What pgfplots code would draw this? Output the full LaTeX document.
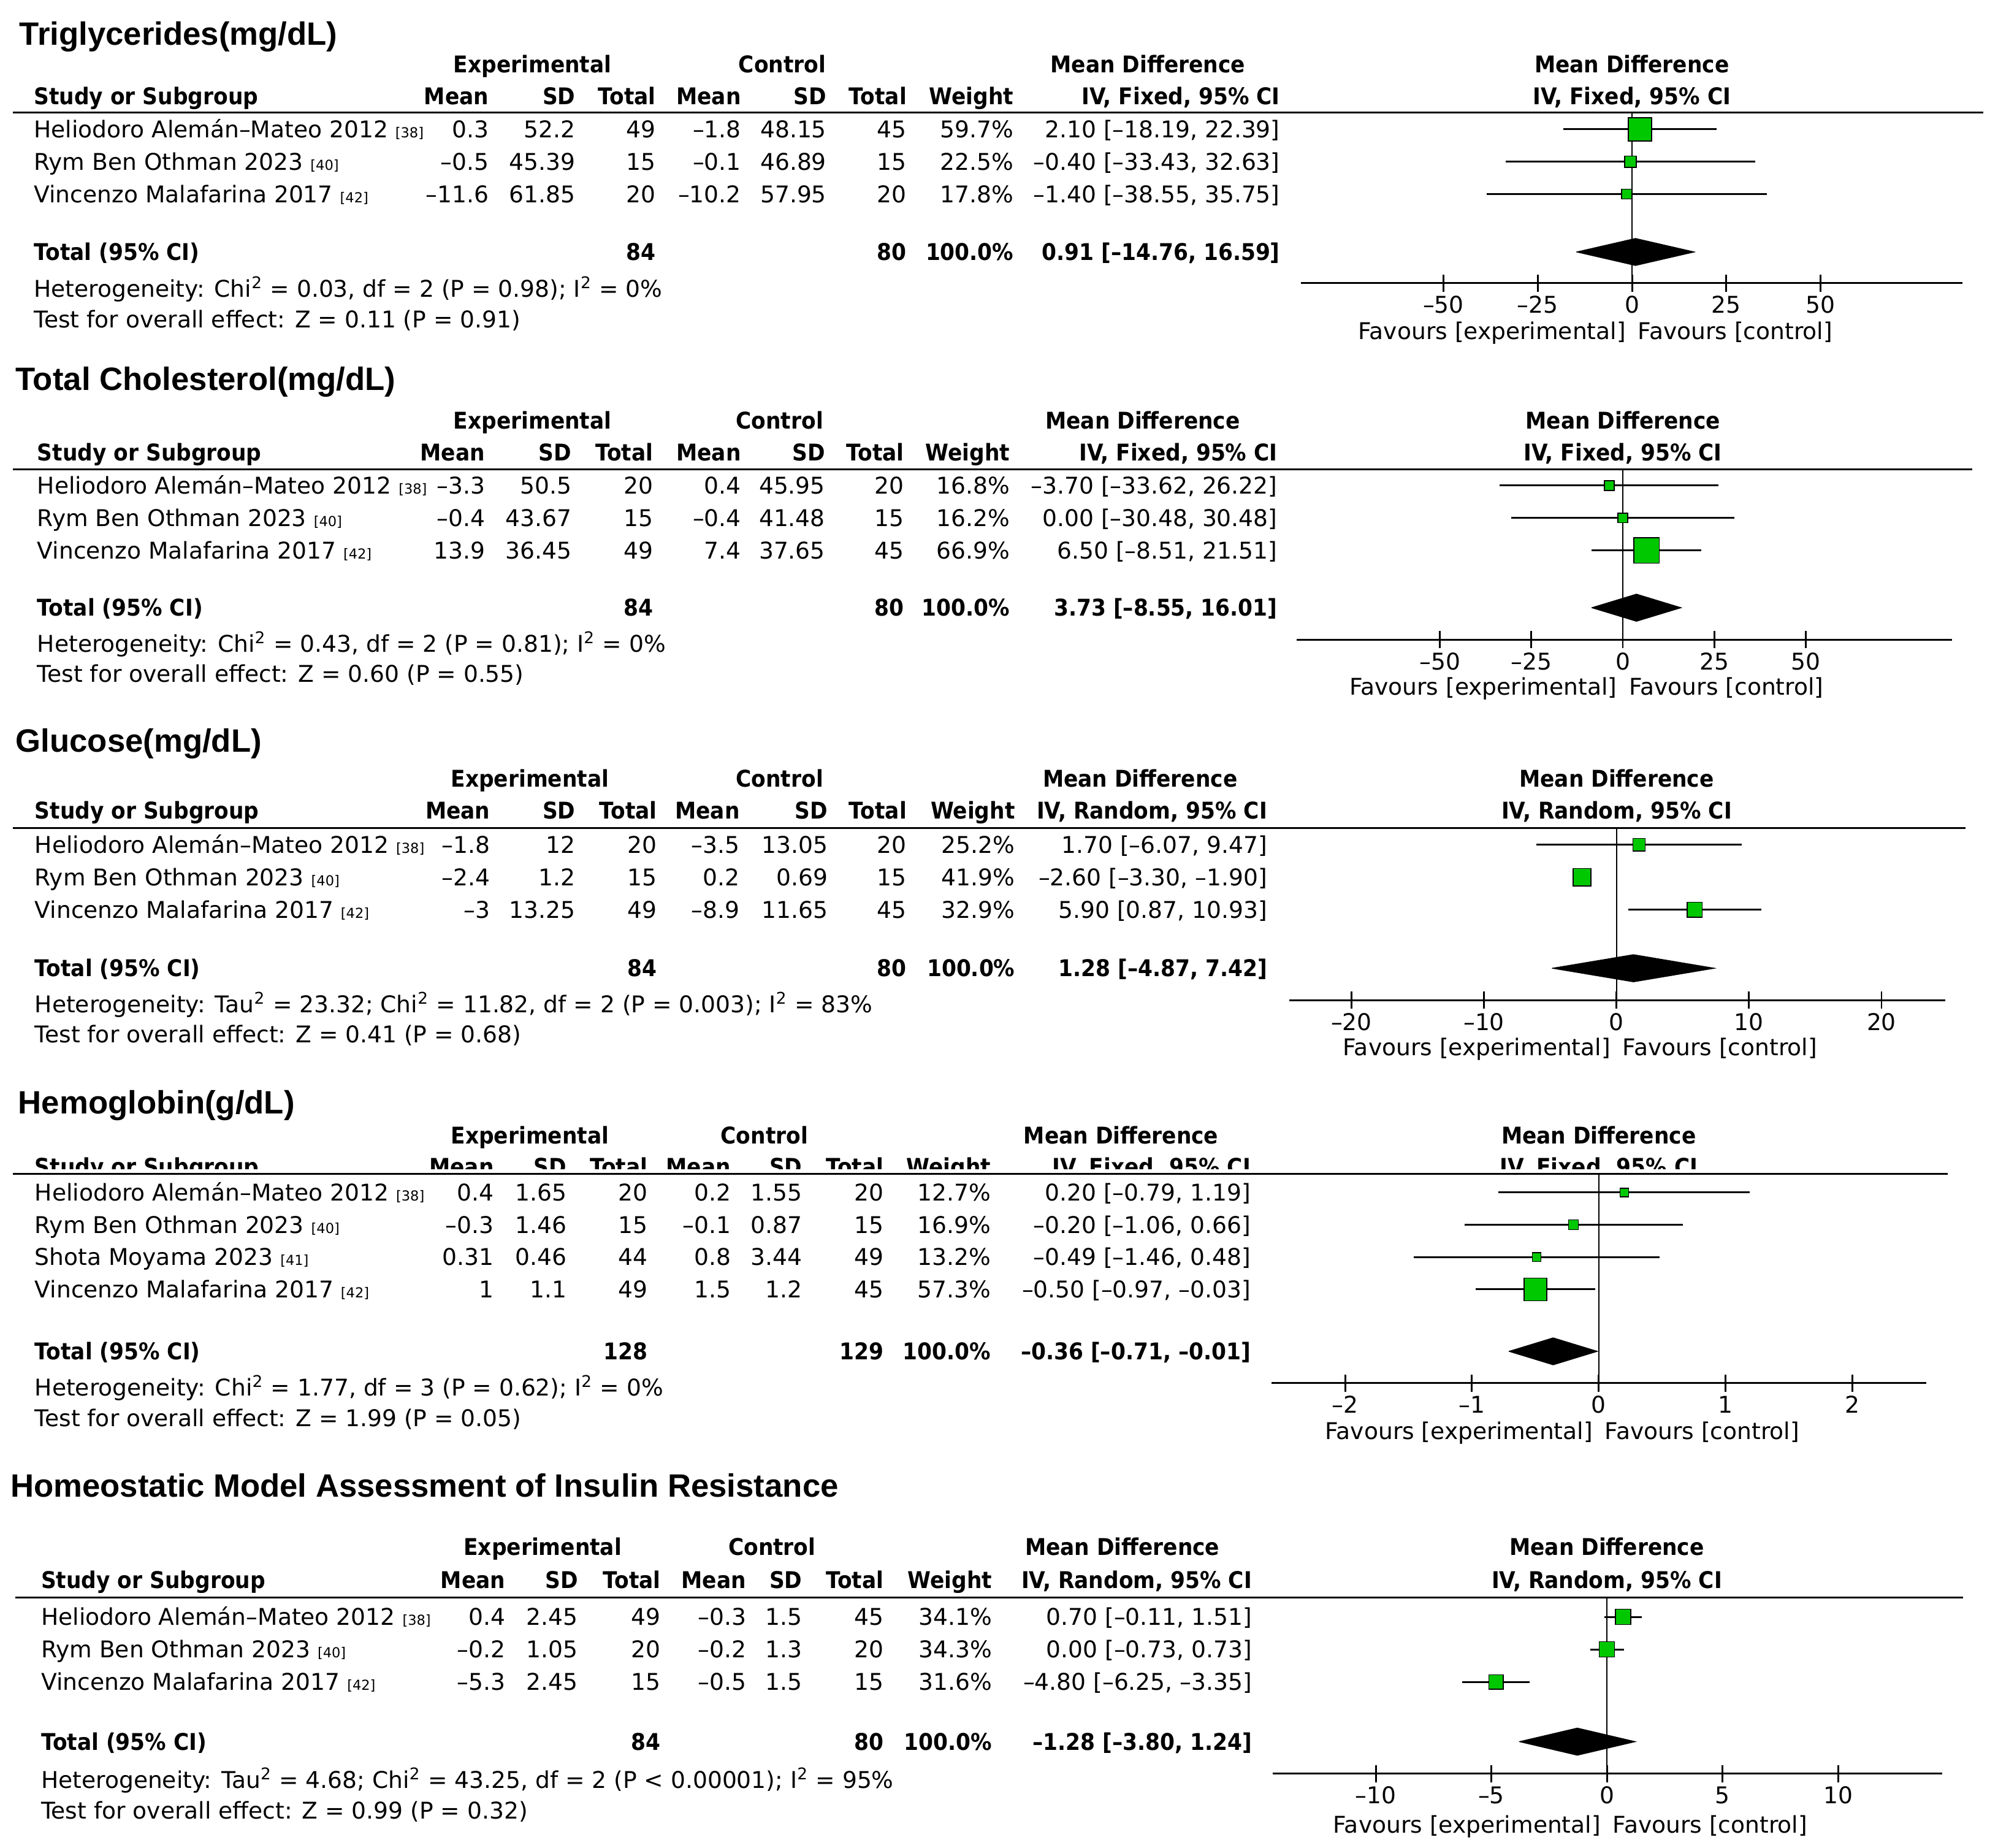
\documentclass[border=0pt]{standalone}
\usepackage{fontspec}
\usepackage{pgfplots}
\usepackage{pgfplotstable}
\pgfplotsset{compat=1.18}
\setmainfont{DejaVu Sans}
\newfontfamily\hdrfont{DejaVu Sans}[FakeStretch=0.915]
\newfontfamily\ttlfont{Liberation Sans}
\definecolor{sqgreen}{RGB}{0,200,0}

\newcommand\body{\fontsize{10.7}{12.8}\selectfont}
\newcommand\hb{\hdrfont\bfseries\fontsize{10.7}{12.8}\selectfont}
\newcommand\ttl{\ttlfont\bfseries\fontsize{15}{18}\selectfont}
\newcommand\rf[1]{{\fontsize{6.4}{7}\selectfont[#1]}}
\newcommand\sq{\textsuperscript{2}}

% r = row, md = mean difference, lo/hi = 95% CI, w = weight (%)
\pgfplotstableread{
r md lo hi w
1 2.10 -18.19 22.39 59.7
2 -0.40 -33.43 32.63 22.5
3 -1.40 -38.55 35.75 17.8
}\tgl
\pgfplotstableread{
r md lo hi w
1 -3.70 -33.62 26.22 16.8
2 0.00 -30.48 30.48 16.2
3 6.50 -8.51 21.51 66.9
}\tch
\pgfplotstableread{
r md lo hi w
1 1.70 -6.07 9.47 25.2
2 -2.60 -3.30 -1.90 41.9
3 5.90 0.87 10.93 32.9
}\glu
\pgfplotstableread{
r md lo hi w
1 0.20 -0.79 1.19 12.7
2 -0.20 -1.06 0.66 16.9
3 -0.49 -1.46 0.48 13.2
4 -0.50 -0.97 -0.03 57.3
}\hgb
\pgfplotstableread{
r md lo hi w
1 0.70 -0.11 1.51 34.1
2 0.00 -0.73 0.73 34.3
3 -4.80 -6.25 -3.35 31.6
}\hom

\pgfplotsset{
  fp/.style={anchor=north west, scale only axis, clip=false,
    axis x line=bottom, axis y line=none,
    x axis line style={-, line width=0.85pt},
    tick align=center, major tick length=0.28cm,
    xtick style={line width=0.85pt, black},
    xticklabel style={font=\body, inner sep=0pt, anchor=base, yshift=-0.35cm},
    ytick=\empty},
  ci/.style={black, line width=0.85pt, forget plot, mark=none,
    quiver={u=\thisrow{hi}-\thisrow{lo}, v=0,
      every arrow/.append style={line width=0.85pt, -}}},
  sqs/.style={scatter, only marks, mark=square*,
    scatter/use mapped color={draw=none, fill=sqgreen},
    visualization depends on={(7.4+0.513*\thisrow{w})*0.14226 \as \msz},
    scatter/@pre marker code/.append style={/tikz/mark size=\msz}},
  zero/.style={black, line width=0.6pt, forget plot},
  dia/.style={fill=black, draw=black, line width=0.3pt},
}

% column positions: study, exp mean/sd/total, ctrl mean/sd/total, weight, CI
\newcommand\cols[9]{\def\cS{#1}\def\cA{#2}\def\cB{#3}\def\cC{#4}\def\cD{#5}\def\cE{#6}\def\cF{#7}\def\cG{#8}\def\cH{#9}}
\newcommand\heads[4]{\def\hE{#1}\def\hC{#2}\def\hM{#3}\def\hR{#4}}
\newcommand\header[3]{%
  \node[tc,font=\hb] at (\hE,#1) {Experimental};
  \node[tc,font=\hb] at (\hC,#1) {Control};
  \node[tc,font=\hb] at (\hM,#1) {Mean Difference};
  \node[tc,font=\hb] at (\hR,#1) {Mean Difference};
  \node[tl,font=\hb] at (\cS,#2) {Study or Subgroup};
  \node[tr,font=\hb] at (\cA,#2) {Mean};
  \node[tr,font=\hb] at (\cB,#2) {SD};
  \node[tr,font=\hb] at (\cC,#2) {Total};
  \node[tr,font=\hb] at (\cD,#2) {Mean};
  \node[tr,font=\hb] at (\cE,#2) {SD};
  \node[tr,font=\hb] at (\cF,#2) {Total};
  \node[tr,font=\hb] at (\cG,#2) {Weight};
  \node[tr,font=\hb] at (\cH,#2) {IV, #3, 95\% CI};
  \node[tc,font=\hb] at (\hR,#2) {IV, #3, 95\% CI};}
\newcommand\srow[9]{\def\ry{#1}\def\rn{#2}\def\ra{#3}\def\rb{#4}\def\rc{#5}\def\rd{#6}\def\re{#7}\def\rg{#8}\def\rw{#9}\srowend}
\newcommand\srowend[1]{%
  \node[tl] at (\cS,\ry) {\rn};
  \node[tr] at (\cA,\ry) {\ra};
  \node[tr] at (\cB,\ry) {\rb};
  \node[tr] at (\cC,\ry) {\rc};
  \node[tr] at (\cD,\ry) {\rd};
  \node[tr] at (\cE,\ry) {\re};
  \node[tr] at (\cF,\ry) {\rg};
  \node[tr] at (\cG,\ry) {\rw};
  \node[tr] at (\cH,\ry) {#1};}
\newcommand\trow[4]{%
  \node[tl,font=\hb] at (\cS,#1) {Total (95\% CI)};
  \node[tr,font=\hb] at (\cC,#1) {#2};
  \node[tr,font=\hb] at (\cF,#1) {#3};
  \node[tr,font=\hb] at (\cG,#1) {100.0\%};
  \node[tr,font=\hb] at (\cH,#1) {#4};}
\newcommand\favours[2]{%
  \node[tr] at (#1-4.5,#2) {Favours [experimental]};
  \node[tl] at (#1+4.5,#2) {Favours [control]};}

\begin{document}
\begin{tikzpicture}
\begin{scope}[x=0.02078cm, y=-0.02078cm, font=\body,
  tl/.style={inner sep=0pt, anchor=base west, yshift=-0.137cm},
  tr/.style={inner sep=0pt, anchor=base east, yshift=-0.137cm},
  tc/.style={inner sep=0pt, anchor=base, yshift=-0.137cm},
  tt/.style={inner sep=0pt, anchor=base west, yshift=-0.19cm, font=\ttl},
  rule/.style={line width=0.85pt}]
\path[use as bounding box] (0,0) rectangle (1568.4,1450.4);

% ---- Triglycerides
\cols{26.4}{384}{452}{515}{582}{649}{712}{796}{1005}
\heads{418}{614}{901}{1281}
\node[tt] at (15,26) {Triglycerides(mg/dL)};
\header{50.5}{75.6}{Fixed}
\draw[rule] (10,88.1) -- (1557,88.1);
\srow{101.5}{Heliodoro Alemán–Mateo 2012 \rf{38}}{0.3}{52.2}{49}{–1.8}{48.15}{45}{59.7\%}{2.10 [–18.19, 22.39]}
\srow{126.9}{Rym Ben Othman 2023 \rf{40}}{–0.5}{45.39}{15}{–0.1}{46.89}{15}{22.5\%}{–0.40 [–33.43, 32.63]}
\srow{152.3}{Vincenzo Malafarina 2017 \rf{42}}{–11.6}{61.85}{20}{–10.2}{57.95}{20}{17.8\%}{–1.40 [–38.55, 35.75]}
\trow{197.8}{84}{80}{0.91 [–14.76, 16.59]}
\node[tl] at (\cS,226.5) {Heterogeneity: Chi\sq{} = 0.03, df = 2 (P = 0.98); I\sq{} = 0\%};
\node[tl] at (\cS,250.5) {Test for overall effect: Z = 0.11 (P = 0.91)};
\favours{1281}{259.9}
\coordinate (a1) at (1021.2,88.1);

% ---- Total cholesterol
\cols{29}{381}{449}{513}{582}{648}{710}{793}{1003}
\heads{418}{612}{897}{1274}
\node[tt] at (12,297) {Total Cholesterol(mg/dL)};
\header{330}{355}{Fixed}
\draw[rule] (10,368.2) -- (1548,368.2);
\srow{381.1}{Heliodoro Alemán–Mateo 2012 \rf{38}}{–3.3}{50.5}{20}{0.4}{45.95}{20}{16.8\%}{–3.70 [–33.62, 26.22]}
\srow{406.6}{Rym Ben Othman 2023 \rf{40}}{–0.4}{43.67}{15}{–0.4}{41.48}{15}{16.2\%}{0.00 [–30.48, 30.48]}
\srow{432.1}{Vincenzo Malafarina 2017 \rf{42}}{13.9}{36.45}{49}{7.4}{37.65}{45}{66.9\%}{6.50 [–8.51, 21.51]}
\trow{477}{84}{80}{3.73 [–8.55, 16.01]}
\node[tl] at (\cS,505) {Heterogeneity: Chi\sq{} = 0.43, df = 2 (P = 0.81); I\sq{} = 0\%};
\node[tl] at (\cS,529) {Test for overall effect: Z = 0.60 (P = 0.55)};
\favours{1274}{539}
\coordinate (a2) at (1017.8,368.2);

% ---- Glucose
\cols{27}{385}{452}{516}{581}{650}{712}{797}{995}
\heads{416}{612}{895}{1269}
\node[tt] at (12,581) {Glucose(mg/dL)};
\header{611}{636}{Random}
\draw[rule] (10,650) -- (1543,650);
\srow{663}{Heliodoro Alemán–Mateo 2012 \rf{38}}{–1.8}{12}{20}{–3.5}{13.05}{20}{25.2\%}{1.70 [–6.07, 9.47]}
\srow{688.5}{Rym Ben Othman 2023 \rf{40}}{–2.4}{1.2}{15}{0.2}{0.69}{15}{41.9\%}{–2.60 [–3.30, –1.90]}
\srow{714}{Vincenzo Malafarina 2017 \rf{42}}{–3}{13.25}{49}{–8.9}{11.65}{45}{32.9\%}{5.90 [0.87, 10.93]}
\trow{760}{84}{80}{1.28 [–4.87, 7.42]}
\node[tl] at (\cS,788) {Heterogeneity: Tau\sq{} = 23.32; Chi\sq{} = 11.82, df = 2 (P = 0.003); I\sq{} = 83\%};
\node[tl] at (\cS,812) {Test for overall effect: Z = 0.41 (P = 0.68)};
\favours{1269}{822}
\coordinate (a3) at (1012,650);

% ---- Hemoglobin
\cols{27}{388}{445}{508.6}{574}{630}{694}{778}{982}
\heads{416}{600}{880}{1255}
\node[tt] at (14,865) {Hemoglobin(g/dL)};
\header{891}{915.5}{Fixed}
\fill[white] (0,917.7) rectangle (1568,930);
\draw[rule] (10,921.5) -- (1529,921.5);
\srow{936}{Heliodoro Alemán–Mateo 2012 \rf{38}}{0.4}{1.65}{20}{0.2}{1.55}{20}{12.7\%}{0.20 [–0.79, 1.19]}
\srow{961.3}{Rym Ben Othman 2023 \rf{40}}{–0.3}{1.46}{15}{–0.1}{0.87}{15}{16.9\%}{–0.20 [–1.06, 0.66]}
\srow{986.6}{Shota Moyama 2023 \rf{41}}{0.31}{0.46}{44}{0.8}{3.44}{49}{13.2\%}{–0.49 [–1.46, 0.48]}
\srow{1012}{Vincenzo Malafarina 2017 \rf{42}}{1}{1.1}{49}{1.5}{1.2}{45}{57.3\%}{–0.50 [–0.97, –0.03]}
\trow{1060.5}{128}{129}{–0.36 [–0.71, –0.01]}
\node[tl] at (\cS,1089) {Heterogeneity: Chi\sq{} = 1.77, df = 3 (P = 0.62); I\sq{} = 0\%};
\node[tl] at (\cS,1113) {Test for overall effect: Z = 1.99 (P = 0.05)};
\favours{1255}{1123}
\coordinate (a4) at (998.1,921.5);

% ---- HOMA-IR
\cols{32}{397}{454}{519}{586}{630}{694}{779}{983}
\heads{426}{606}{881}{1261.3}
\node[tt] at (8,1166) {Homeostatic Model Assessment of Insulin Resistance};
\header{1214}{1240}{Random}
\draw[rule] (12,1254) -- (1541,1254);
\srow{1269}{Heliodoro Alemán–Mateo 2012 \rf{38}}{0.4}{2.45}{49}{–0.3}{1.5}{45}{34.1\%}{0.70 [–0.11, 1.51]}
\srow{1294.5}{Rym Ben Othman 2023 \rf{40}}{–0.2}{1.05}{20}{–0.2}{1.3}{20}{34.3\%}{0.00 [–0.73, 0.73]}
\srow{1320}{Vincenzo Malafarina 2017 \rf{42}}{–5.3}{2.45}{15}{–0.5}{1.5}{15}{31.6\%}{–4.80 [–6.25, –3.35]}
\trow{1367}{84}{80}{–1.28 [–3.80, 1.24]}
\node[tl] at (\cS,1397) {Heterogeneity: Tau\sq{} = 4.68; Chi\sq{} = 43.25, df = 2 (P < 0.00001); I\sq{} = 95\%};
\node[tl] at (\cS,1421) {Test for overall effect: Z = 0.99 (P = 0.32)};
\favours{1261.3}{1432}
\coordinate (a5) at (999,1254);
\end{scope}

% ---- forest plots
\begin{axis}[fp, at={(a1)}, width=10.79cm, height=2.789cm,
  xmin=-87.8, xmax=87.6, ymin=-5.756, ymax=-0.472,
  xtick={-50,-25,0,25,50}, xticklabels={–50,–25,0,25,50}]
\addplot[zero] coordinates {(0,-5.756) (0,-0.472)};
\addplot[ci] table[x=lo, y expr=-\thisrow{r}] {\tgl};
\addplot[sqs] table[x=md, y expr=-\thisrow{r}] {\tgl};
\addplot[dia] coordinates {(-14.76,-4.79) (0.91,-4.37) (16.59,-4.79) (0.91,-5.21) (-14.76,-4.79)};
\end{axis}

\begin{axis}[fp, at={(a2)}, width=10.69cm, height=2.780cm,
  xmin=-89.2, xmax=90.0, ymin=-5.74, ymax=-0.494,
  xtick={-50,-25,0,25,50}, xticklabels={–50,–25,0,25,50}]
\addplot[zero] coordinates {(0,-5.74) (0,-0.494)};
\addplot[ci] table[x=lo, y expr=-\thisrow{r}] {\tch};
\addplot[sqs] table[x=md, y expr=-\thisrow{r}] {\tch};
\addplot[dia] coordinates {(-8.55,-4.76) (3.73,-4.34) (16.01,-4.76) (3.73,-5.18) (-8.55,-4.76)};
\end{axis}

\begin{axis}[fp, at={(a3)}, width=10.70cm, height=2.805cm,
  xmin=-24.7, xmax=24.8, ymin=-5.78, ymax=-0.49,
  xtick={-20,-10,0,10,20}, xticklabels={–20,–10,0,10,20}]
\addplot[zero] coordinates {(0,-5.78) (0,-0.49)};
\addplot[ci] table[x=lo, y expr=-\thisrow{r}] {\glu};
\addplot[sqs] table[x=md, y expr=-\thisrow{r}] {\glu};
\addplot[dia] coordinates {(-4.87,-4.80) (1.28,-4.38) (7.42,-4.80) (1.28,-5.22) (-4.87,-4.80)};
\end{axis}

\begin{axis}[fp, at={(a4)}, width=10.68cm, height=3.408cm,
  xmin=-2.58, xmax=2.58, ymin=-6.90, ymax=-0.43,
  xtick={-2,-1,0,1,2}, xticklabels={–2,–1,0,1,2}]
\addplot[zero] coordinates {(0,-6.90) (0,-0.43)};
\addplot[ci] table[x=lo, y expr=-\thisrow{r}] {\hgb};
\addplot[sqs] table[x=md, y expr=-\thisrow{r}] {\hgb};
\addplot[dia] coordinates {(-0.71,-5.92) (-0.36,-5.50) (-0.01,-5.92) (-0.36,-6.34) (-0.71,-5.92)};
\end{axis}

\begin{axis}[fp, at={(a5)}, width=10.92cm, height=2.868cm,
  xmin=-14.46, xmax=14.5, ymin=-5.82, ymax=-0.41,
  xtick={-10,-5,0,5,10}, xticklabels={–10,–5,0,5,10}]
\addplot[zero] coordinates {(0,-5.82) (0,-0.41)};
\addplot[ci] table[x=lo, y expr=-\thisrow{r}] {\hom};
\addplot[sqs] table[x=md, y expr=-\thisrow{r}] {\hom};
\addplot[dia] coordinates {(-3.80,-4.84) (-1.28,-4.42) (1.24,-4.84) (-1.28,-5.26) (-3.80,-4.84)};
\end{axis}
\end{tikzpicture}
\end{document}
